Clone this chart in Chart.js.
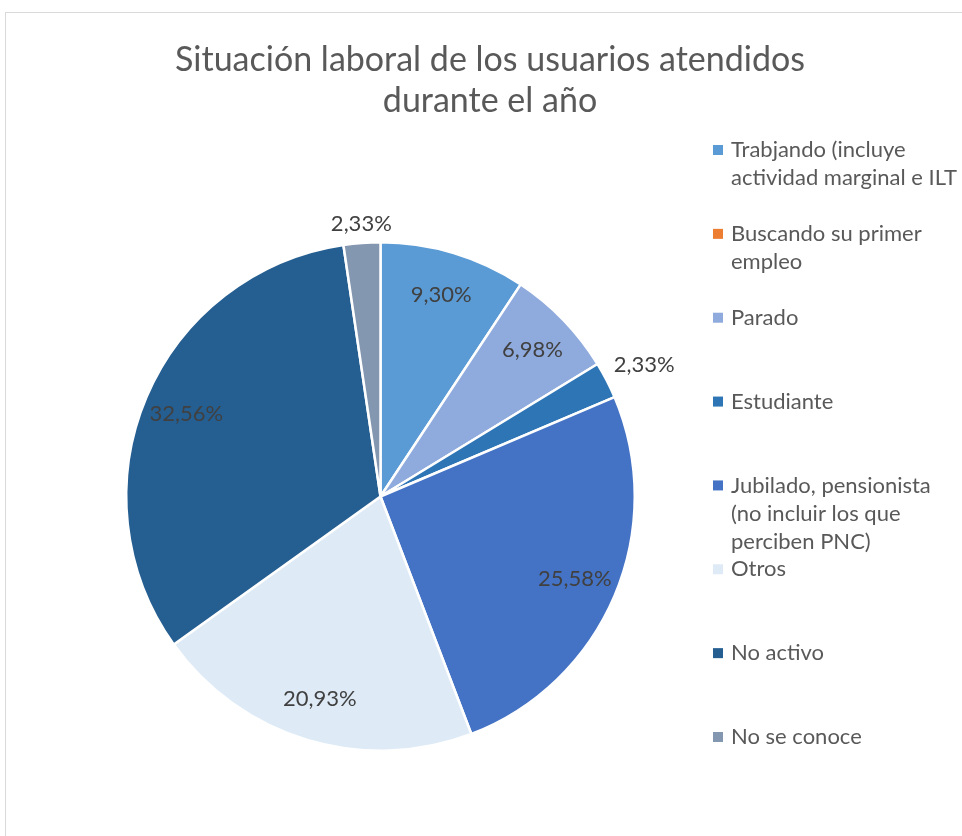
<!DOCTYPE html>
<html>
<head>
<meta charset="utf-8">
<script src="https://cdn.jsdelivr.net/npm/chart.js@4"></script>
<style>
  html, body { margin:0; padding:0; background:#fff; overflow:hidden; }
  #wrap { position:relative; width:962px; height:836px; }
  #frame { position:absolute; left:5px; top:12px; width:1000px; height:900px; border:1px solid #d9d9d9; box-sizing:border-box; }
  canvas { position:absolute; left:0; top:0; }
</style>
</head>
<body>
<div id="wrap">
  <div id="frame"></div>
  <canvas id="c" width="962" height="836"></canvas>
</div>
<script>
const titleLines = ['Situación laboral de los usuarios atendidos', 'durante el año'];
const categories = [
  'Trabjando (incluye actividad marginal e ILT',
  'Buscando su primer empleo',
  'Parado',
  'Estudiante',
  'Jubilado, pensionista (no incluir los que perciben PNC)',
  'Otros',
  'No activo',
  'No se conoce'
];
const legendLines = [
  ['Trabjando (incluye', 'actividad marginal e ILT'],
  ['Buscando su primer', 'empleo'],
  ['Parado'],
  ['Estudiante'],
  ['Jubilado, pensionista', '(no incluir los que', 'perciben PNC)'],
  ['Otros'],
  ['No activo'],
  ['No se conoce']
];
const values = [9.30, 0, 6.98, 2.33, 25.58, 20.93, 32.56, 2.33];
const valueLabels = ['9,30%', '', '6,98%', '2,33%', '25,58%', '20,93%', '32,56%', '2,33%'];
const colors = ['#5B9BD5', '#ED7D31', '#8FAADC', '#2E75B6', '#4472C4', '#DEEBF7', '#255E91', '#8497B0'];

const FONT = 'Lato, "Open Sans", sans-serif';

const labelPlugin = {
  id: 'sliceLabels',
  afterDatasetsDraw(chart) {
    const ctx = chart.ctx;
    const meta = chart.getDatasetMeta(0);
    ctx.save();
    ctx.font = '22px ' + FONT;
    ctx.fillStyle = '#404040';
    meta.data.forEach((arc, i) => {
      if (!values[i]) return;
      const p = arc.getProps(['x','y','startAngle','endAngle','outerRadius'], true);
      const mid = (p.startAngle + p.endAngle) / 2;
      const frac = (p.endAngle - p.startAngle) / (2 * Math.PI);
      const cos = Math.cos(mid), sin = Math.sin(mid);
      if (frac > 0.05) {
        const r = p.outerRadius * 0.83;
        ctx.textAlign = 'center';
        ctx.textBaseline = 'middle';
        ctx.fillText(valueLabels[i], p.x + r * cos, p.y + r * sin);
      } else {
        const r = p.outerRadius + 8;
        const x = p.x + r * cos, y = p.y + r * sin;
        ctx.textAlign = cos > 0.5 ? 'left' : (cos < -0.5 ? 'right' : 'center');
        ctx.textBaseline = sin < -0.5 ? 'bottom' : (sin > 0.5 ? 'top' : 'middle');
        ctx.fillText(valueLabels[i], x, y - (ctx.textBaseline === 'middle' ? 12 : 0));
      }
    });
    ctx.restore();
  }
};

const decorPlugin = {
  id: 'decor',
  afterDraw(chart) {
    const ctx = chart.ctx;
    ctx.save();
    // title
    ctx.font = '34px ' + FONT;
    ctx.fillStyle = '#595959';
    ctx.textAlign = 'center';
    ctx.textBaseline = 'middle';
    titleLines.forEach((t, i) => ctx.fillText(t, 490, 60 + i * 41));
    // legend
    const top = 150, bottomItem = 737;
    const step = (bottomItem - top) / (categories.length - 1);
    ctx.font = '22px ' + FONT;
    ctx.textAlign = 'left';
    legendLines.forEach((lines, i) => {
      const y0 = top + i * step;
      ctx.fillStyle = colors[i];
      ctx.fillRect(713, y0 - 5, 10, 10);
      ctx.fillStyle = '#595959';
      lines.forEach((ln, j) => ctx.fillText(ln, 731, y0 + j * 28));
    });
    ctx.restore();
  }
};

new Chart(document.getElementById('c'), {
  type: 'pie',
  data: {
    labels: categories,
    datasets: [{
      data: values,
      backgroundColor: colors,
      borderColor: '#ffffff',
      borderWidth: 2.5
    }]
  },
  options: {
    responsive: false,
    animation: false,
    layout: { padding: { left: 125, right: 326, top: 241, bottom: 84 } },
    plugins: {
      legend: { display: false },
      title: { display: false },
      tooltip: { enabled: false }
    }
  },
  plugins: [labelPlugin, decorPlugin]
});
</script>
</body>
</html>
